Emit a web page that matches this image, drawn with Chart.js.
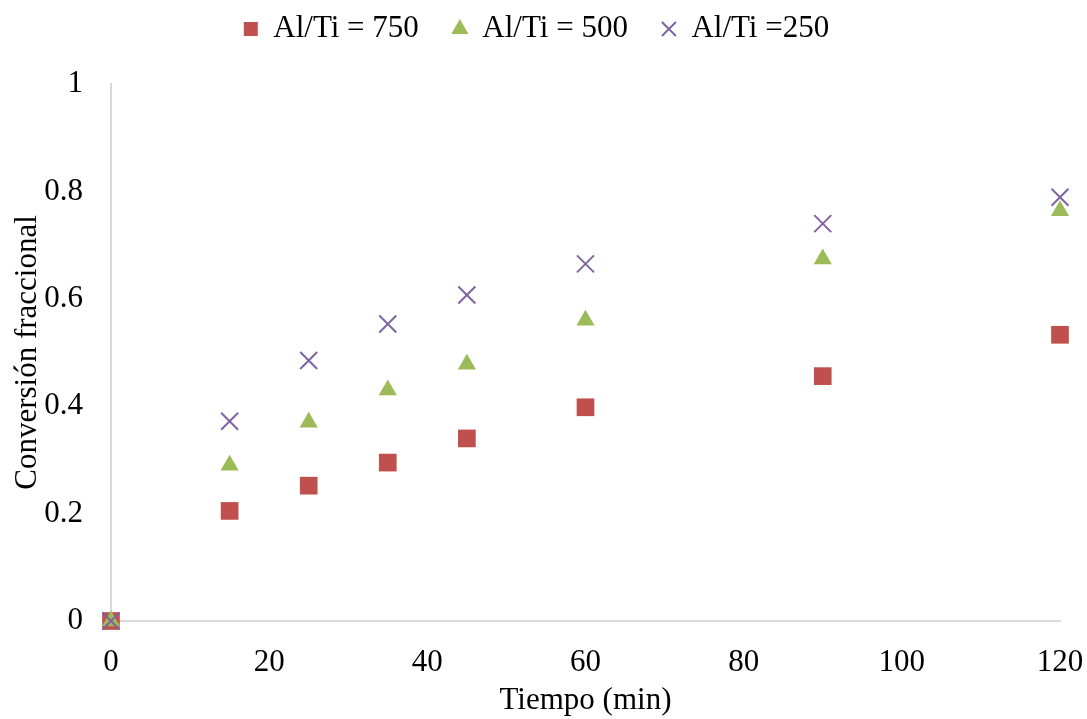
<!DOCTYPE html>
<html>
<head>
<meta charset="utf-8">
<script src="https://cdn.jsdelivr.net/npm/chart.js@4/dist/chart.umd.min.js"></script>
<style>
  html, body { margin: 0; padding: 0; background: #fff; }
  #wrap { width: 1087px; height: 719px; }
</style>
</head>
<body>
<div id="wrap"><canvas id="c" width="1087" height="719"></canvas></div>
<script>
const tiempo = [0, 15, 25, 35, 45, 60, 90, 120];
const al750 = [0, 0.205, 0.252, 0.295, 0.340, 0.398, 0.456, 0.533];
const al500 = [0, 0.290, 0.370, 0.430, 0.478, 0.560, 0.674, 0.764];
const al250 = [0, 0.372, 0.485, 0.553, 0.607, 0.665, 0.740, 0.789];
const seriesNames = ['Al/Ti = 750', 'Al/Ti = 500', 'Al/Ti =250'];
const xTicks = [0, 120, 20];
const yTicks = [0, 1, 0.2];

const serif = 'Liberation Serif';
const fontSize = 31;
const axisGray = '#D9D9D9';

function points(ys) {
  return tiempo.map((t, i) => ({ x: t, y: ys[i] }));
}

// keeps the plot area at a fixed place under the legend
const legendBox = {
  id: 'legendBox',
  beforeInit(chart) {
    const fit = chart.legend.fit;
    chart.legend.fit = function () {
      fit.bind(chart.legend)();
      this.height = 104.5;
    };
  }
};

new Chart(document.getElementById('c'), {
  type: 'scatter',
  data: {
    datasets: [
      {
        label: seriesNames[0], data: points(al750), order: 3, clip: false,
        pointStyle: 'rect', pointRadius: 12.5, pointHoverRadius: 12.5,
        backgroundColor: '#C0504D', borderColor: '#C0504D', borderWidth: 0
      },
      {
        label: seriesNames[1], data: points(al500), order: 2, clip: false,
        pointStyle: 'triangle', pointRadius: 10.5, pointHoverRadius: 10.5,
        backgroundColor: '#9BBB59', borderColor: '#9BBB59', borderWidth: 0
      },
      {
        label: seriesNames[2], data: points(al250), order: 1, clip: false,
        pointStyle: 'crossRot', pointRadius: 12, pointHoverRadius: 12,
        backgroundColor: '#8064A2', borderColor: '#8064A2', borderWidth: 2
      }
    ]
  },
  options: {
    responsive: false,
    animation: false,
    layout: { padding: { top: -20.5, right: 14, left: 0, bottom: 0 } },
    plugins: {
      tooltip: { enabled: false },
      legend: {
        position: 'top',
        labels: {
          usePointStyle: true,
          boxWidth: 14,
          boxHeight: 14,
          padding: 34,
          color: '#000',
          font: { family: serif, size: fontSize },
          sort: (a, b) => a.datasetIndex - b.datasetIndex
        }
      }
    },
    scales: {
      x: {
        type: 'linear',
        min: xTicks[0], max: xTicks[1],
        grid: { display: false, drawTicks: false },
        border: { display: true, color: axisGray, width: 2 },
        ticks: { stepSize: xTicks[2], padding: 23, color: '#000', font: { family: serif, size: fontSize } },
        title: {
          display: true, text: 'Tiempo (min)', color: '#000',
          font: { family: serif, size: fontSize }, padding: { top: 0, bottom: 0 }
        },
        afterFit(scale) {
          scale.height = 98;
          scale.paddingLeft = 0;
          scale.paddingRight = 27;
        }
      },
      y: {
        min: yTicks[0], max: yTicks[1],
        grid: { display: false, drawTicks: false },
        border: { display: true, color: axisGray, width: 2 },
        ticks: {
          stepSize: yTicks[2], padding: 28, color: '#000', font: { family: serif, size: fontSize },
          callback: (v) => String(Math.round(v * 10) / 10)
        },
        title: {
          display: true, text: 'Conversión fraccional', color: '#000',
          font: { family: serif, size: fontSize }, padding: { top: 9, bottom: 0 }
        },
        afterFit(scale) { scale.width = 111; }
      }
    }
  },
  plugins: [legendBox]
});
</script>
</body>
</html>
